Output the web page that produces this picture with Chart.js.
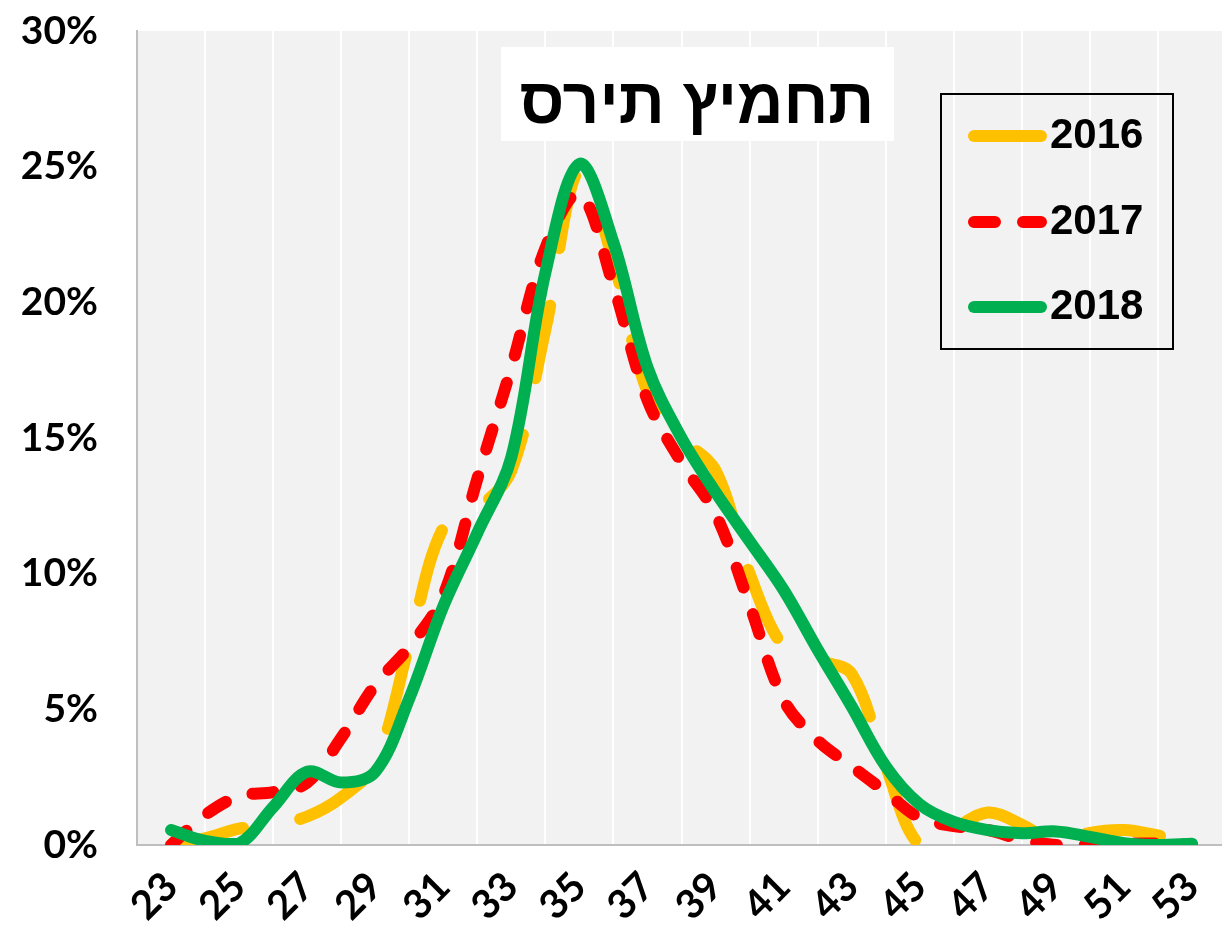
<!DOCTYPE html>
<html lang="he">
<head>
<meta charset="UTF-8">
<title>תחמיץ תירס</title>
<script src="https://cdn.jsdelivr.net/npm/chart.js"></script>
<style>
  html, body { margin: 0; padding: 0; background: #fff; overflow: hidden; }
  #wrap { position: relative; width: 1222px; height: 937px; }
</style>
</head>
<body>
<div id="wrap"><canvas id="silageChart"></canvas></div>
<script>
// dry matter classes (x) and share of samples per class, in %
const classes = [23, 24, 25, 26, 27, 28, 29, 30, 31, 32, 33, 34, 35, 36, 37, 38,
                 39, 40, 41, 42, 43, 44, 45, 46, 47, 48, 49, 50, 51, 52, 53];
const gridTicks = [22, 23, 24, 25, 26, 27, 28, 29, 30, 31, 32, 33, 34, 35, 36, 37, 38,
                   39, 40, 41, 42, 43, 44, 45, 46, 47, 48, 49, 50, 51, 52, 53];
const yearLabels = ['2016', '2017', '2018'];

const share2016 = [0.0, 0.25, 0.6, 0.75, 1.05, 1.75, 3.0, 7.4, 11.7, 12.4, 13.8, 19.0, 24.9, 21.5, 16.7, 15.0,
                   13.8, 10.0, 7.3, 6.8, 6.3, 2.9, 0.0, 0.6, 1.2, 0.75, 0.1, 0.45, 0.55, 0.35, 0.1];
const share2017 = [0.0, 1.1, 1.8, 1.95, 2.3, 3.95, 5.9, 7.3, 9.2, 13.5, 17.6, 22.0, 24.0, 20.6, 16.4, 14.1,
                   12.2, 8.85, 5.35, 3.85, 2.9, 1.95, 1.0, 0.7, 0.55, 0.2, 0.0, 0.0, 0.05, 0.05, 0.0];
const share2018 = [0.55, 0.15, 0.05, 1.4, 2.7, 2.3, 2.7, 5.4, 8.8, 11.5, 14.3, 21.1, 25.1, 22.2, 17.6, 15.0,
                   13.0, 11.2, 9.4, 7.2, 5.1, 2.9, 1.5, 0.85, 0.55, 0.43, 0.5, 0.3, 0.07, 0.0, 0.05];

const chartTitle = 'תחמיץ תירס';

function toPoints(values) {
    return values.map((v, i) => ({ x: classes[i], y: v }));
}

// grey plot background
const plotBackground = {
    id: 'plotBackground',
    beforeDraw(chart) {
        const { ctx, chartArea: a } = chart;
        ctx.save();
        ctx.fillStyle = '#f2f2f2';
        ctx.fillRect(a.left, a.top, a.right - a.left, a.bottom - a.top);
        ctx.restore();
    }
};

// title box and framed legend inside the plot
const overlayBoxes = {
    id: 'overlayBoxes',
    afterDraw(chart) {
        const ctx = chart.ctx;
        ctx.save();

        ctx.fillStyle = '#ffffff';
        ctx.fillRect(501, 47, 393, 94);
        ctx.fillStyle = '#000000';
        ctx.font = 'bold 64px "Liberation Sans", "DejaVu Sans", sans-serif';
        ctx.textAlign = 'center';
        ctx.textBaseline = 'alphabetic';
        ctx.direction = 'rtl';
        ctx.fillText(chartTitle, 697, 123);

        ctx.direction = 'ltr';
        ctx.strokeStyle = '#000000';
        ctx.lineWidth = 2;
        ctx.strokeRect(941, 94, 232, 255);

        const rowsY = [136, 222, 307];
        chart.data.datasets.forEach((ds, i) => {
            const y = rowsY[i];
            ctx.beginPath();
            ctx.setLineDash(ds.borderDash || []);
            ctx.lineCap = 'round';
            ctx.lineWidth = ds.borderWidth;
            ctx.strokeStyle = ds.borderColor;
            ctx.moveTo(974, y);
            ctx.lineTo(1041, y);
            ctx.stroke();
            ctx.setLineDash([]);
            ctx.fillStyle = '#000000';
            ctx.font = 'bold 42px "Liberation Sans", Arial, sans-serif';
            ctx.textAlign = 'left';
            ctx.fillText(ds.label, 1050, y + 12);
        });
        ctx.restore();
    }
};

const yTickFont = { family: 'Lato', size: 39, weight: 'bold' };
const xTickFont = { family: 'Lato', size: 40, weight: 'bold' };

new Chart(document.getElementById('silageChart'), {
    type: 'line',
    data: {
        datasets: [
            {
                label: yearLabels[0],
                data: toPoints(share2016),
                borderColor: '#FFC000',
                borderWidth: 12,
                borderDash: [74, 58],
                borderCapStyle: 'round',
                tension: 0.35,
                pointRadius: 0,
                order: 3
            },
            {
                label: yearLabels[1],
                data: toPoints(share2017),
                borderColor: '#FF0000',
                borderWidth: 12,
                borderDash: [21, 28],
                borderCapStyle: 'round',
                tension: 0.35,
                pointRadius: 0,
                order: 2
            },
            {
                label: yearLabels[2],
                data: toPoints(share2018),
                borderColor: '#00B050',
                borderWidth: 12,
                borderCapStyle: 'round',
                borderJoinStyle: 'round',
                tension: 0.35,
                pointRadius: 0,
                order: 1
            }
        ]
    },
    options: {
        responsive: true,
        maintainAspectRatio: false,
        animation: false,
        devicePixelRatio: 1,
        layout: { padding: { top: 31, left: 0, right: 0, bottom: 0 } },
        plugins: {
            legend: { display: false },
            title: { display: false },
            tooltip: { enabled: false }
        },
        scales: {
            x: {
                type: 'linear',
                min: 22,
                max: 53.88,
                afterBuildTicks: axis => {
                    axis.ticks = gridTicks.map(v => ({ value: v }));
                },
                afterFit: axis => {
                    axis.height = 92;
                    axis.paddingLeft = 0;
                    axis.paddingRight = 0;
                },
                grid: {
                    color: ctx => (ctx.tick && ctx.tick.value > 22 && ctx.tick.value % 2 === 0) ? '#ffffff' : 'rgba(0,0,0,0)',
                    lineWidth: 2,
                    drawTicks: false
                },
                border: { color: '#bfbfbf', width: 2 },
                ticks: {
                    autoSkip: false,
                    minRotation: 45,
                    maxRotation: 45,
                    padding: 18,
                    color: '#000000',
                    font: xTickFont,
                    callback: v => (v % 2 === 1 ? String(v) : '')
                }
            },
            y: {
                min: 0,
                max: 30,
                afterFit: axis => {
                    axis.width = 137;
                    axis.paddingTop = 0;
                    axis.paddingBottom = 0;
                },
                grid: { color: 'rgba(0,0,0,0)', drawTicks: false },
                border: { color: '#bfbfbf', width: 2 },
                ticks: {
                    stepSize: 5,
                    padding: 39,
                    color: '#000000',
                    font: yTickFont,
                    callback: v => v + '%'
                }
            }
        }
    },
    plugins: [plotBackground, overlayBoxes]
});
</script>
</body>
</html>
